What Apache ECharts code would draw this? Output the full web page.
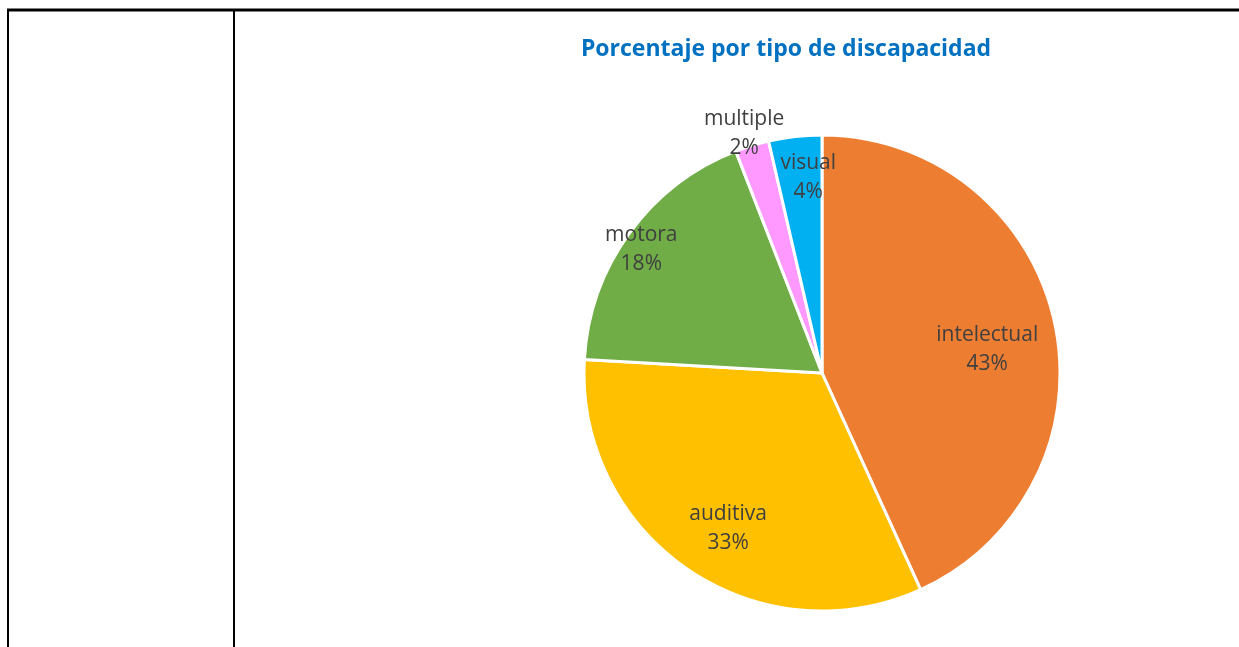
<!DOCTYPE html>
<html>
<head>
<meta charset="utf-8">
<script src="https://cdn.jsdelivr.net/npm/echarts@6/dist/echarts.min.js"></script>
<style>
  html, body { margin: 0; padding: 0; background: #fff; }
  #chart { width: 1239px; height: 647px; }
</style>
</head>
<body>
<div id="chart"></div>
<script>
const categories = ['intelectual', 'auditiva', 'motora', 'multiple', 'visual'];
const values = [43.2, 32.7, 18.2, 2.3, 3.6];
const colors = ['#ED7D31', '#FFC000', '#70AD47', '#FF99FF', '#00B0F0'];
// label nudges from the default inside position (Excel "best fit")
const labelShift = [[46, 2], [-25, 55], [-82, -52], [-42, -123], [0, -74]];

const chart = echarts.init(document.getElementById('chart'));

const option = {
    animation: false,
    title: {
        text: 'Porcentaje por tipo de discapacidad',
        left: 781,
        textAlign: 'center',
        top: 33,
        textStyle: { color: '#0070C0', fontFamily: 'Open Sans', fontWeight: 'bold', fontSize: 23 },
    },
    graphic: [
        { type: 'line', shape: { x1: 7, y1: 10, x2: 1239, y2: 10 }, style: { stroke: '#000', lineWidth: 3 } },
        { type: 'line', shape: { x1: 8, y1: 9, x2: 8, y2: 647 }, style: { stroke: '#000', lineWidth: 2 } },
        { type: 'line', shape: { x1: 234, y1: 9, x2: 234, y2: 647 }, style: { stroke: '#000', lineWidth: 2 } },
    ],
    series: [
        {
            type: 'pie',
            center: [822, 373],
            radius: 238,
            startAngle: 90,
            clockwise: true,
            percentPrecision: 0,
            avoidLabelOverlap: false,
            itemStyle: { borderColor: '#fff', borderWidth: 3 },
            label: {
                position: 'inside',
                formatter: '{b}\n{d}%',
                color: '#404040',
                fontFamily: 'Open Sans',
                fontSize: 21,
                lineHeight: 29,
            },
            labelLine: { show: false },
            labelLayout: params => ({ dx: labelShift[params.dataIndex][0], dy: labelShift[params.dataIndex][1] }),
            data: categories.map((name, i) => ({ name, value: values[i], itemStyle: { color: colors[i] } })),
        },
    ],
};

chart.setOption(option);
</script>
</body>
</html>
